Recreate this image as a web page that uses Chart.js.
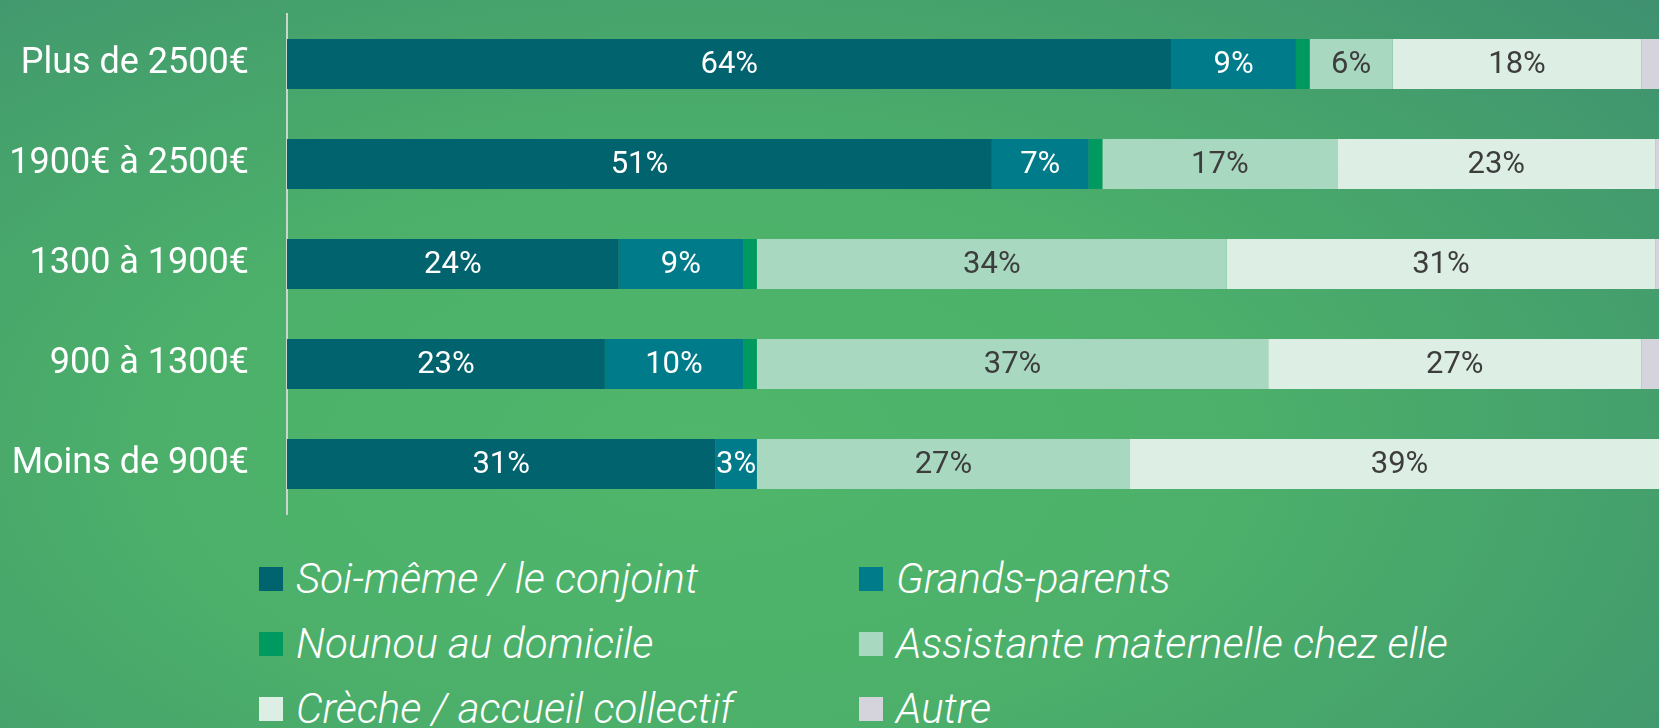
<!DOCTYPE html>
<html lang="fr">
<head>
<meta charset="utf-8">
<script src="https://cdn.jsdelivr.net/npm/chart.js@4.4.1/dist/chart.umd.min.js"></script>
<style>
  html, body { margin: 0; padding: 0; width: 1659px; height: 728px; overflow: hidden; }
  body {
    position: relative;
    font-family: Roboto, sans-serif;
    background: radial-gradient(ellipse 80% 95% at 42% 62%, #4fb66b 0%, #4cb06a 40%, #45a16c 70%, #3e8f70 100%);
  }
  #wrap { position: absolute; left: 0; top: 0; width: 1680px; height: 528px; }
  #legend {
    position: absolute; left: 259px; top: 546px;
    display: grid; grid-template-columns: 600px 600px; grid-auto-rows: 65px;
  }
  .item { display: flex; align-items: center; color: #fff; font: italic 300 42px Roboto, sans-serif; white-space: nowrap; }
  .box { width: 24px; height: 24px; margin-right: 13px; flex: none; }
</style>
</head>
<body>
<div id="wrap"><canvas id="chart"></canvas></div>
<div id="legend"></div>
<script>
const categories = ['Plus de 2500€', '1900€ à 2500€', '1300 à 1900€', '900 à 1300€', 'Moins de 900€'];
const seriesNames = ['Soi-même / le conjoint', 'Grands-parents', 'Nounou au domicile',
                     'Assistante maternelle chez elle', 'Crèche / accueil collectif', 'Autre'];
const soiMeme       = [64, 51, 24, 23, 31];
const grandsParents = [9, 7, 9, 10, 3];
const nounou        = [1, 1, 1, 1, 0];
const assistante    = [6, 17, 34, 37, 27];
const creche        = [18, 23, 31, 27, 39];
const autre         = [2, 1, 1, 2, 0];
const colors      = ['#00636e', '#007b8a', '#009a60', '#a8d8c0', '#ddefe4', '#d5d3db'];
const labelColors = ['#ffffff', '#ffffff', '#ffffff', '#3d3d3d', '#3d3d3d', '#3d3d3d'];

const values = [soiMeme, grandsParents, nounou, assistante, creche, autre];

// percentage text in the middle of each segment (small ones skipped)
const segLabels = {
  id: 'segLabels',
  afterDatasetsDraw(chart) {
    const ctx = chart.ctx;
    ctx.save();
    ctx.font = '400 31px Roboto';
    ctx.textAlign = 'center';
    ctx.textBaseline = 'middle';
    chart.data.datasets.forEach((ds, i) => {
      chart.getDatasetMeta(i).data.forEach((bar, j) => {
        const v = ds.data[j];
        if (v < 3) return;
        const p = bar.getProps(['x', 'y', 'base'], true);
        ctx.fillStyle = labelColors[i];
        ctx.fillText(v + '%', (p.x + p.base) / 2, p.y + 1);
      });
    });
    ctx.restore();
  }
};

Chart.defaults.font.family = 'Roboto';

const chart = new Chart(document.getElementById('chart').getContext('2d'), {
  type: 'bar',
  data: {
    labels: categories,
    datasets: values.map((d, i) => ({
      label: seriesNames[i],
      data: d,
      backgroundColor: colors[i],
      borderWidth: 0,
      barPercentage: 1,
      categoryPercentage: 0.5
    }))
  },
  options: {
    indexAxis: 'y',
    responsive: true,
    maintainAspectRatio: false,
    animation: false,
    layout: { padding: { top: 14, bottom: 14, right: 11, left: 0 } },
    plugins: { legend: { display: false }, tooltip: { enabled: false } },
    scales: {
      x: { stacked: true, min: 0, max: 100, display: false },
      y: {
        stacked: true,
        afterFit(s) { s.width = 287; s.paddingTop = 0; s.paddingBottom = 0; },
        grid: { display: false, drawTicks: false },
        border: { display: true, color: '#c8d6cc', width: 2 },
        ticks: { color: '#ffffff', font: { size: 36 }, padding: 38 }
      }
    }
  },
  plugins: [segLabels]
});

const legend = document.getElementById('legend');
chart.data.datasets.forEach(ds => {
  const item = document.createElement('div');
  item.className = 'item';
  const box = document.createElement('span');
  box.className = 'box';
  box.style.background = ds.backgroundColor;
  item.appendChild(box);
  item.appendChild(document.createTextNode(ds.label));
  legend.appendChild(item);
});
</script>
</body>
</html>
